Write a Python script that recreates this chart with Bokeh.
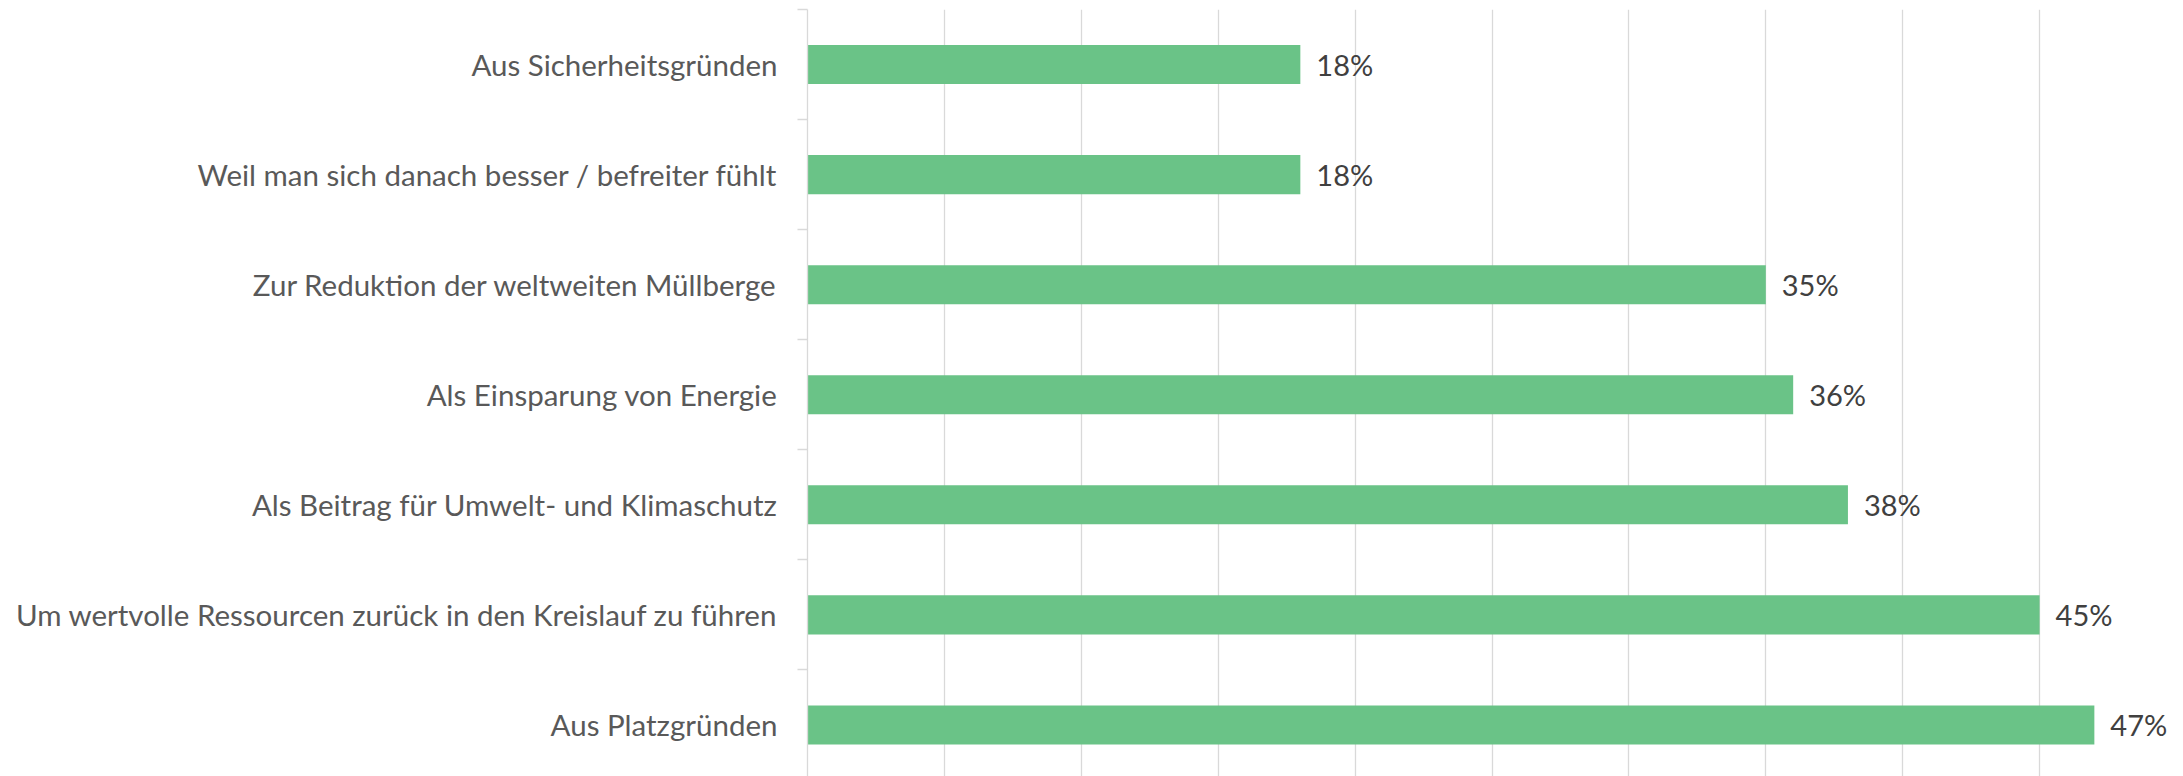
from bokeh.plotting import figure
from bokeh.models import ColumnDataSource, FixedTicker, Range1d
from bokeh.core.properties import value
from bokeh.embed import file_html
from bokeh.resources import INLINE

# Data (top to bottom as shown)
categories = [
    "Aus Sicherheitsgründen",
    "Weil man sich danach besser / befreiter fühlt",
    "Zur Reduktion der weltweiten Müllberge",
    "Als Einsparung von Energie",
    "Als Beitrag für Umwelt- und Klimaschutz",
    "Um wertvolle Ressourcen zurück in den Kreislauf zu führen",
    "Aus Platzgründen",
]
shares = [18, 18, 35, 36, 38, 45, 47]
x_ticks = [0, 5, 10, 15, 20, 25, 30, 35, 40, 45, 50]

n = len(categories)
pos = [n - 1 - i for i in range(n)]
labels = [f"{v}%" for v in shares]

FONT = "Lato"
BAR = "#6ac387"
GRID = "#d9d9d9"

src = ColumnDataSource(dict(y=pos, share=shares, label=labels))

p = figure(
    width=2183, height=776,
    output_backend="svg", toolbar_location=None,
    x_range=Range1d(0, 50), y_range=Range1d(-0.468, 6.5),
    min_border_left=807, min_border_right=7, min_border_top=9, min_border_bottom=0,
)
p.outline_line_color = None
p.background_fill_color = "white"
p.border_fill_color = "white"

p.hbar(y="y", right="share", left=0, height=0.355, source=src,
       fill_color=BAR, line_color=None)

p.text(x="share", y="y", text="label", source=src, x_offset=16,
       text_baseline="middle", text_align="left",
       text_font=value(FONT), text_font_size="29px", text_color="#404040")

# x axis: hidden, grid only
p.xaxis.visible = False
p.xgrid.ticker = FixedTicker(ticks=x_ticks)
p.xgrid.grid_line_color = GRID
p.xgrid.grid_line_width = 1.3
p.ygrid.grid_line_color = None

yax = p.yaxis[0]
yax.ticker = FixedTicker(ticks=pos, minor_ticks=[k - 0.5 for k in range(n + 1)])
yax.major_label_overrides = {pos[i]: categories[i] for i in range(n)}
yax.major_tick_line_color = None
yax.major_tick_out = 0
yax.major_tick_in = 0
yax.minor_tick_line_color = GRID
yax.minor_tick_line_width = 1.3
yax.minor_tick_out = 10
yax.minor_tick_in = 0
yax.axis_line_color = GRID
yax.axis_line_width = 1.3
yax.major_label_standoff = 20
yax.major_label_text_font = FONT
yax.major_label_text_font_size = "29.5px"
yax.major_label_text_color = "#595959"

open("out.html", "w").write(file_html(p, INLINE))
